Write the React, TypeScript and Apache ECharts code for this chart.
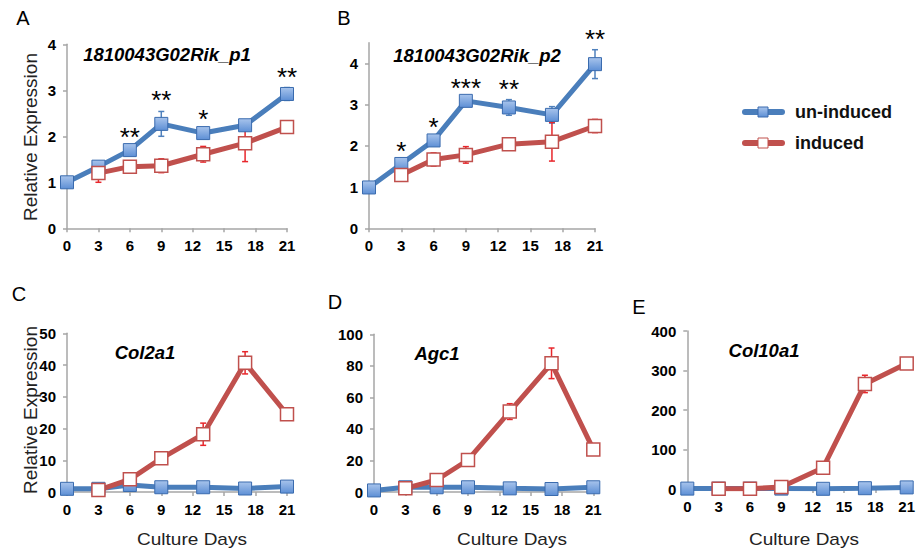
import React, { useEffect, useRef } from 'react';
import * as echarts from 'echarts';

// ---------- data ----------
const days = [0, 3, 6, 9, 13, 17, 21];
const xTickValues = [0, 3, 6, 9, 12, 15, 18, 21];

// Panel A: 1810043G02Rik_p1
const aBlue = [1.0, 1.34, 1.7, 2.27, 2.07, 2.24, 2.92];
const aBlueErr = [0, 0.04, 0.05, 0.27, 0.06, 0.05, 0.14];
const aRed = [null, 1.2, 1.34, 1.36, 1.61, 1.85, 2.2];
const aRedErr = [0, 0.2, 0.05, 0.15, 0.17, 0.4, 0.12];
const aStars = ['', '', '**', '**', '*', '', '**'];

// Panel B: 1810043G02Rik_p2
const bBlue = [0.99, 1.56, 2.13, 3.09, 2.93, 2.75, 3.98];
const bBlueErr = [0, 0.05, 0.06, 0.05, 0.19, 0.2, 0.35];
const bRed = [null, 1.29, 1.67, 1.78, 2.04, 2.1, 2.48];
const bRedErr = [0, 0.04, 0.16, 0.2, 0.05, 0.47, 0.16];
const bStars = ['', '*', '*', '***', '**', '', '**'];

// Panel C: Col2a1
const cBlue = [1, 1, 2.2, 1.5, 1.5, 1.1, 1.7];
const cBlueErr = [0, 0, 0, 0, 0, 0, 0];
const cRed = [null, 0.6, 4, 10.6, 18.2, 40.7, 24.5];
const cRedErr = [0, 0, 0.3, 0.3, 3.5, 3.5, 0.5];

// Panel D: Agc1
const dBlue = [1, 3, 3, 3, 2.3, 1.9, 3];
const dBlueErr = [0, 0, 0, 0, 0, 0, 0];
const dRed = [null, 2.3, 7.6, 20.3, 51, 81.6, 27];
const dRedErr = [0, 0, 0, 0, 5, 9.7, 0];

// Panel E: Col10a1
const eBlue = [1, 1, 1, 1, 0.5, 2, 4];
const eBlueErr = [0, 0, 0, 0, 0, 0, 0];
const eRed = [null, 0.5, 0.5, 5, 54, 266, 318];
const eRedErr = [0, 0, 0, 0, 0, 22, 0];

const yMax = [4, 4.5, 50, 100, 400];
const yInterval = [1, 1, 10, 20, 100];
const yLabelValues = [
  [0, 1, 2, 3, 4],
  [0, 1, 2, 3, 4],
  [0, 10, 20, 30, 40, 50],
  [0, 20, 40, 60, 80, 100],
  [0, 100, 200, 300, 400],
];

const titles = ['1810043G02Rik_p1', '1810043G02Rik_p2', 'Col2a1', 'Agc1', 'Col10a1'];
const letters = ['A', 'B', 'C', 'D', 'E'];
const seriesNames = ['un-induced', 'induced'];

// ---------- styles ----------
const FONT = '"Liberation Sans", Arial, Helvetica, sans-serif';
const BLUE = '#4A7EBB';
const BLUE_ERR = '#4F81BD';
const RED = '#C0504D';
const RED_ERR = '#E8262B';
const AXIS = '#A6A6A6';

const grids = [
  { left: 67, top: 44.3, width: 220, height: 184 },
  { left: 369, top: 42.7, width: 226, height: 185.6 },
  { left: 67, top: 333.3, width: 220, height: 158.7 },
  { left: 374, top: 334.3, width: 219.3, height: 157.7 },
  { left: 687.3, top: 331, width: 219.4, height: 158 },
];

const titlePos = [
  [167, 54],
  [477, 55],
  [145, 352],
  [437, 353],
  [764, 350],
];
const letterPos = [
  [23, 18],
  [344, 18],
  [19, 294],
  [335, 302],
  [639, 307],
];

function blueFill() {
  return new echarts.graphic.LinearGradient(0, 0, 0, 1, [
    { offset: 0, color: '#A8C4EC' },
    { offset: 1, color: '#5D8FD5' },
  ]);
}

function errRender(color: string) {
  return (params: any, api: any) => {
    const x = api.value(0);
    const lo = api.value(1);
    const hi = api.value(2);
    const pLo = api.coord([x, lo]);
    const pHi = api.coord([x, hi]);
    const w = 3;
    const st = { stroke: color, lineWidth: 1.5 };
    return {
      type: 'group',
      children: [
        { type: 'line', shape: { x1: pLo[0], y1: pLo[1], x2: pHi[0], y2: pHi[1] }, style: st },
        { type: 'line', shape: { x1: pLo[0] - w, y1: pLo[1], x2: pLo[0] + w, y2: pLo[1] }, style: st },
        { type: 'line', shape: { x1: pHi[0] - w, y1: pHi[1], x2: pHi[0] + w, y2: pHi[1] }, style: st },
      ],
    };
  };
}

const starTexts: Record<number, string[]> = {};

function starRender(params: any, api: any) {
  const x = api.value(0);
  const top = api.value(1);
  const p = api.coord([x, top]);
  const txt = starTexts[params.seriesIndex]?.[params.dataIndex] ?? '';
  return {
    type: 'text',
    x: p[0],
    y: p[1] - 11,
    style: {
      text: txt,
      fill: '#000',
      font: `26px ${FONT}`,
      fontSize: 26,
      fontFamily: FONT,
      align: 'center',
      verticalAlign: 'middle',
      textAlign: 'center',
      textVerticalAlign: 'middle',
    },
  };
}

function buildPanel(i: number, blue: (number | null)[], blueErr: number[], red: (number | null)[], redErr: number[], stars?: string[]) {
  const out: any[] = [];
  const ax = { xAxisIndex: i, yAxisIndex: i };
  out.push({
    type: 'custom',
    ...ax,
    silent: true,
    renderItem: errRender(BLUE_ERR),
    encode: { x: 0, y: [1, 2] },
    data: days
      .map((d, k) => (blueErr[k] > 0 && blue[k] != null ? [d, (blue[k] as number) - blueErr[k], (blue[k] as number) + blueErr[k]] : null))
      .filter(Boolean),
  });
  out.push({
    type: 'line',
    name: seriesNames[0],
    ...ax,
    data: days.map((d, k) => [d, blue[k]]).filter((p) => p[1] != null),
    symbol: 'rect',
    symbolSize: 13,
    showAllSymbol: true,
    lineStyle: { color: BLUE, width: 5 },
    itemStyle: { color: blueFill(), borderColor: '#3A6BAE', borderWidth: 1 },
    silent: true,
  });
  out.push({
    type: 'custom',
    ...ax,
    silent: true,
    renderItem: errRender(RED_ERR),
    encode: { x: 0, y: [1, 2] },
    data: days
      .map((d, k) => (redErr[k] > 0 && red[k] != null ? [d, (red[k] as number) - redErr[k], (red[k] as number) + redErr[k]] : null))
      .filter(Boolean),
  });
  out.push({
    type: 'line',
    name: seriesNames[1],
    ...ax,
    data: days.map((d, k) => [d, red[k]]).filter((p) => p[1] != null),
    symbol: 'rect',
    symbolSize: 13,
    showAllSymbol: true,
    lineStyle: { color: RED, width: 5 },
    itemStyle: { color: '#FFFFFF', borderColor: RED, borderWidth: 1.5 },
    silent: true,
  });
  if (stars) {
    const pts: any[] = [];
    const txts: string[] = [];
    days.forEach((d, k) => {
      if (stars[k]) {
        pts.push([d, (blue[k] as number) + blueErr[k]]);
        txts.push(stars[k]);
      }
    });
    out.push({
      type: 'custom',
      ...ax,
      silent: true,
      z: 5,
      renderItem: starRender,
      encode: { x: 0, y: 1 },
      data: pts,
      _txts: txts,
    });
  }
  return out;
}

export default function App() {
  const ref = useRef<HTMLDivElement>(null);

  useEffect(() => {
    if (!ref.current) return;
    const chart = echarts.init(ref.current, undefined, { renderer: 'svg' });

    const panels = [
      buildPanel(0, aBlue, aBlueErr, aRed, aRedErr, aStars),
      buildPanel(1, bBlue, bBlueErr, bRed, bRedErr, bStars),
      buildPanel(2, cBlue, cBlueErr, cRed, cRedErr),
      buildPanel(3, dBlue, dBlueErr, dRed, dRedErr),
      buildPanel(4, eBlue, eBlueErr, eRed, eRedErr),
    ];
    const series: any[] = [];
    panels.forEach((p) => p.forEach((s) => series.push(s)));
    series.forEach((s, idx) => {
      if (s._txts) {
        starTexts[idx] = s._txts;
        delete s._txts;
      }
    });

    const axisLabelStyle = { color: '#000', fontWeight: 'bold', fontSize: 15, fontFamily: FONT };

    const xAxis = grids.map((_, i) => ({
      type: 'value',
      gridIndex: i,
      min: 0,
      max: 21,
      interval: 3,
      axisLine: { show: true, onZero: false, lineStyle: { color: AXIS, width: 1.5 } },
      axisTick: { show: true, length: 4, lineStyle: { color: AXIS, width: 1.5 } },
      splitLine: { show: false },
      axisLabel: { ...axisLabelStyle, margin: 10, customValues: xTickValues },
    }));

    const yAxis = grids.map((_, i) => ({
      type: 'value',
      gridIndex: i,
      min: 0,
      max: yMax[i],
      interval: yInterval[i],
      axisLine: { show: true, onZero: false, lineStyle: { color: AXIS, width: 1.5 } },
      axisTick: { show: true, length: 4, lineStyle: { color: AXIS, width: 1.5 }, customValues: yLabelValues[i] },
      splitLine: { show: false },
      axisLabel: {
        ...axisLabelStyle,
        margin: 11,
        customValues: yLabelValues[i],
        formatter: (v: number) => (yLabelValues[i].indexOf(v) >= 0 ? String(v) : ''),
      },
    }));

    const graphic: any[] = [];
    titles.forEach((t, i) => {
      graphic.push({
        type: 'text',
        x: titlePos[i][0],
        y: titlePos[i][1],
        style: {
          text: t,
          fill: '#000',
          font: `italic bold 18.5px ${FONT}`,
          textAlign: 'center',
          textVerticalAlign: 'middle',
          align: 'center',
          verticalAlign: 'middle',
        },
      });
    });
    letters.forEach((t, i) => {
      graphic.push({
        type: 'text',
        x: letterPos[i][0],
        y: letterPos[i][1],
        style: {
          text: t,
          fill: '#000',
          font: `20px ${FONT}`,
          textAlign: 'center',
          textVerticalAlign: 'middle',
          align: 'center',
          verticalAlign: 'middle',
        },
      });
    });
    // y axis names
    [
      [30, 137],
      [30, 410],
    ].forEach((p) => {
      graphic.push({
        type: 'text',
        x: p[0],
        y: p[1],
        rotation: Math.PI / 2,
        style: {
          text: 'Relative Expression',
          fill: '#222',
          font: `19px ${FONT}`,
          textAlign: 'center',
          textVerticalAlign: 'middle',
          align: 'center',
          verticalAlign: 'middle',
        },
      });
    });
    // x axis names
    [
      [192, 539],
      [512, 539],
      [804, 539],
    ].forEach((p) => {
      graphic.push({
        type: 'text',
        x: p[0],
        y: p[1],
        scaleX: 1.12,
        style: {
          text: 'Culture Days',
          fill: '#222',
          font: `17px ${FONT}`,
          textAlign: 'center',
          textVerticalAlign: 'middle',
          align: 'center',
          verticalAlign: 'middle',
        },
      });
    });
    // legend
    const legendRows = [
      { y: 112, name: seriesNames[0], line: BLUE, fill: blueFill(), stroke: '#3A6BAE' },
      { y: 143, name: seriesNames[1], line: RED, fill: '#FFFFFF', stroke: RED },
    ];
    legendRows.forEach((r) => {
      graphic.push({
        type: 'line',
        shape: { x1: 745, y1: r.y, x2: 782, y2: r.y },
        style: { stroke: r.line, lineWidth: 6, lineCap: 'round' },
      });
      graphic.push({
        type: 'rect',
        shape: { x: 758, y: r.y - 5, width: 10, height: 10 },
        style: { fill: r.fill, stroke: r.stroke, lineWidth: 1 },
      });
      graphic.push({
        type: 'text',
        x: 795,
        y: r.y,
        style: {
          text: r.name,
          fill: '#111',
          font: `bold 18px ${FONT}`,
          textAlign: 'left',
          textVerticalAlign: 'middle',
          align: 'left',
          verticalAlign: 'middle',
        },
      });
    });

    chart.setOption({
      animation: false,
      backgroundColor: '#ffffff',
      grid: grids.map((g) => ({ ...g, containLabel: false, outerBoundsMode: 'none' })),
      xAxis,
      yAxis,
      series,
      graphic,
    });

    return () => {
      chart.dispose();
    };
  }, []);

  return (
    <div
      ref={ref}
      style={{ position: 'absolute', left: 0, top: 0, width: 923, height: 552, background: '#fff' }}
    />
  );
}
